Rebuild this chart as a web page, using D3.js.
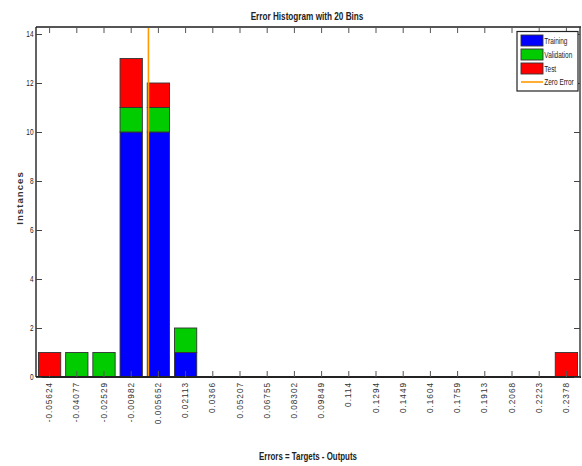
<!DOCTYPE html>
<html>
<head>
<meta charset="utf-8">
<script src="https://cdn.jsdelivr.net/npm/d3@7"></script>
<style>
  html, body { margin: 0; padding: 0; background: #fff; }
  svg { display: block; font-family: "Liberation Sans", Arial, sans-serif; }
</style>
</head>
<body>
<svg id="chart" width="582" height="466"></svg>
<script>
// Bin centres of the error histogram (tick labels)
const binLabels = ["-0.05624", "-0.04077", "-0.02529", "-0.00982", "0.005652", "0.02113", "0.0366", "0.05207",
  "0.06755", "0.08302", "0.09849", "0.114", "0.1294", "0.1449", "0.1604", "0.1759", "0.1913", "0.2068", "0.2223", "0.2378"];
const binCenters = binLabels.map(Number);

// Instances per bin for each data split
const training   = [0, 0, 0, 10, 10, 1, 0, 0, 0, 0, 0, 0, 0, 0, 0, 0, 0, 0, 0, 0];
const validation = [0, 1, 1, 1, 1, 1, 0, 0, 0, 0, 0, 0, 0, 0, 0, 0, 0, 0, 0, 0];
const test       = [1, 0, 0, 2, 1, 0, 0, 0, 0, 0, 0, 0, 0, 0, 0, 0, 0, 0, 0, 1];

const seriesNames = ["Training", "Validation", "Test"];
const seriesColors = ["#0000ff", "#00cc00", "#ff0000"];
const yTicks = [0, 2, 4, 6, 8, 10, 12, 14];
const zeroError = 0;

const svg = d3.select("#chart");
const plotL = 36, plotR = 580, plotT = 27, plotB = 377;

// Horizontally condensed text (narrow sans look)
function narrowText(parent, x, y, str, size, sx, anchor, weight) {
  return parent.append("text")
    .attr("transform", `translate(${x},${y}) scale(${sx},1)`)
    .attr("text-anchor", anchor || "start")
    .attr("font-size", size)
    .attr("font-weight", weight || "normal")
    .attr("fill", "#222")
    .text(str);
}

const x = d3.scaleBand().domain(binLabels).range([plotL, plotR]).paddingInner(0.18).paddingOuter(0.09);
const xVal = d3.scaleLinear()
  .domain([binCenters[0], binCenters[binCenters.length - 1]])
  .range([x(binLabels[0]) + x.bandwidth() / 2, x(binLabels[binLabels.length - 1]) + x.bandwidth() / 2]);
const y = d3.scaleLinear().domain([0, 14 * (plotB - plotT) / (plotB - 34)]).range([plotB, plotT]);

// Stack the three splits per bin
const rows = binLabels.map((b, i) => ({ bin: b, Training: training[i], Validation: validation[i], Test: test[i] }));
const stacked = d3.stack().keys(seriesNames)(rows);

// Bars
const layers = svg.append("g").selectAll("g").data(stacked).join("g")
  .attr("fill", (d, i) => seriesColors[i]);
layers.selectAll("rect").data(d => d.filter(s => s[1] > s[0])).join("rect")
  .attr("x", d => x(d.data.bin))
  .attr("width", x.bandwidth())
  .attr("y", d => y(d[1]))
  .attr("height", d => y(d[0]) - y(d[1]))
  .attr("stroke", "#333")
  .attr("stroke-width", 0.9);

// Zero error line
svg.append("line")
  .attr("x1", xVal(zeroError)).attr("x2", xVal(zeroError))
  .attr("y1", plotT).attr("y2", plotB)
  .attr("stroke", "#ff9a00").attr("stroke-width", 1.6);

// Frame
const frame = svg.append("g");
frame.append("line").attr("x1", plotL).attr("x2", plotR + 1).attr("y1", plotT).attr("y2", plotT)
  .attr("stroke", "#555").attr("stroke-width", 1.8);
frame.append("line").attr("x1", plotL).attr("x2", plotR + 1).attr("y1", plotB).attr("y2", plotB)
  .attr("stroke", "#222").attr("stroke-width", 1.8);
frame.append("line").attr("x1", plotL).attr("x2", plotL).attr("y1", plotT).attr("y2", plotB)
  .attr("stroke", "#222").attr("stroke-width", 1.4);
frame.append("line").attr("x1", plotR).attr("x2", plotR).attr("y1", plotT).attr("y2", plotB)
  .attr("stroke", "#333").attr("stroke-width", 1.4);

// Bottom axis: ticks point up into the plot, labels rotated
const gx = svg.append("g").attr("transform", `translate(0,${plotB})`)
  .call(d3.axisBottom(x).tickSize(-6).tickPadding(4));
gx.select(".domain").remove();
gx.selectAll(".tick line").attr("stroke", "#555").attr("stroke-width", 1);
gx.selectAll(".tick text")
  .attr("font-family", "'Liberation Sans', Arial, sans-serif")
  .attr("font-size", 8.2)
  .attr("letter-spacing", 1.0)
  .attr("fill", "#333")
  .attr("transform", "rotate(-90)")
  .attr("text-anchor", "end")
  .attr("x", -5)
  .attr("y", 0)
  .attr("dy", "0.32em");

// Top axis ticks (no labels)
const gxt = svg.append("g").attr("transform", `translate(0,${plotT})`)
  .call(d3.axisTop(x).tickSize(-6).tickFormat(""));
gxt.select(".domain").remove();
gxt.selectAll(".tick line").attr("stroke", "#555");

// Left axis: short ticks crossing the frame, condensed labels
const gy = svg.append("g").attr("transform", `translate(${plotL},0)`)
  .call(d3.axisLeft(y).tickValues(yTicks).tickSize(-6).tickFormat(""));
gy.select(".domain").remove();
gy.selectAll(".tick line").attr("stroke", "#444");
yTicks.forEach(v => {
  narrowText(svg, plotL - 2.5, y(v) + 3, String(v), 9, 0.72, "end");
});

// Right axis ticks
const gyr = svg.append("g").attr("transform", `translate(${plotR},0)`)
  .call(d3.axisRight(y).tickValues(yTicks).tickSize(-6).tickFormat(""));
gyr.select(".domain").remove();
gyr.selectAll(".tick line").attr("stroke", "#444");

// Title and axis labels
narrowText(svg, 307, 19.5, "Error Histogram with 20 Bins", 10.5, 0.78, "middle", "bold");
narrowText(svg, 308, 459.5, "Errors = Targets - Outputs", 10, 0.79, "middle", "bold");
svg.append("text")
  .attr("transform", "translate(23.3,198) rotate(-90)").attr("text-anchor", "middle")
  .attr("font-size", 9.5).attr("font-weight", "bold").attr("letter-spacing", 1.1).attr("fill", "#333")
  .text("Instances");

// Legend
const lg = svg.append("g").attr("transform", "translate(517,31.5)");
lg.append("rect").attr("x", 0).attr("y", 0).attr("width", 61).attr("height", 59.5)
  .attr("fill", "#fff").attr("stroke", "#222").attr("stroke-width", 1.2);
seriesNames.forEach((name, i) => {
  const yy = 3.5 + i * 14;
  lg.append("rect").attr("x", 4).attr("y", yy).attr("width", 22).attr("height", 11)
    .attr("fill", seriesColors[i]).attr("stroke", "#333").attr("stroke-width", 0.9);
  narrowText(lg, 27.3, yy + 9, name, 9, 0.72, "start");
});
lg.append("line").attr("x1", 4).attr("x2", 26).attr("y1", 50.5).attr("y2", 50.5)
  .attr("stroke", "#ff9a00").attr("stroke-width", 1.6);
narrowText(lg, 27.3, 53.8, "Zero Error", 9, 0.72, "start");
</script>
</body>
</html>
